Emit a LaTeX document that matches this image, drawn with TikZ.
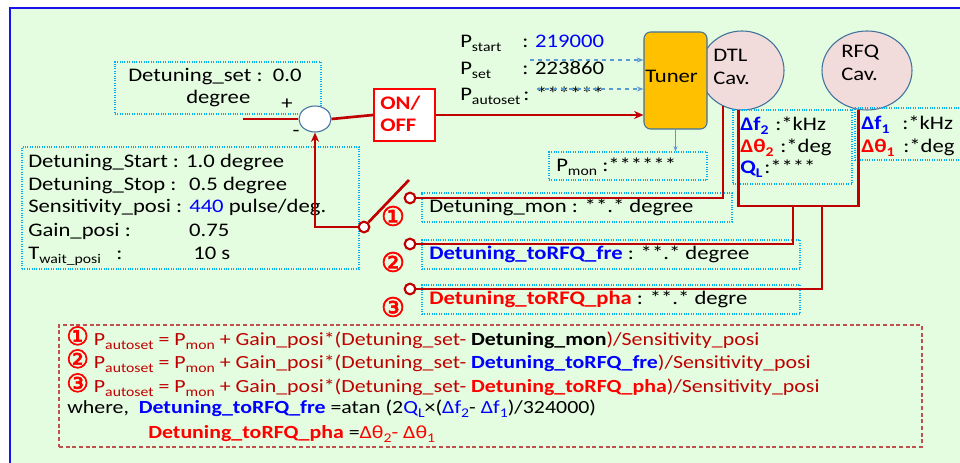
\documentclass[tikz,border=0pt]{standalone}
\usepackage{fontspec}
\setmainfont{Carlito}[FakeStretch=1.18]
\newfontfamily\circfont{DejaVu Sans}[FakeBold=2.5]
\usepackage{tikz}
\usetikzlibrary{arrows.meta,fit,shapes.geometric,calc}

\definecolor{bggreen}{RGB}{228,252,224}
\definecolor{frameblue}{RGB}{20,20,235}
\definecolor{dotcyan}{RGB}{0,176,240}
\definecolor{wirered}{RGB}{192,0,0}
\definecolor{brightred}{RGB}{255,0,0}
\definecolor{txtblue}{RGB}{0,0,255}
\definecolor{cavpink}{RGB}{242,220,219}
\definecolor{edgeblue}{RGB}{65,113,156}
\definecolor{tunerorange}{RGB}{255,192,0}
\definecolor{dashblue}{RGB}{91,155,213}
\definecolor{formred}{RGB}{192,80,77}

% subscript and fixed-width label helpers
\newcommand{\psub}[1]{\raisebox{-3pt}{\fontsize{10pt}{10pt}\selectfont #1}}
\newcommand{\lbl}[2]{\makebox[#1][l]{#2}}
\newcommand{\cnum}[1]{{\circfont\fontsize{19pt}{19pt}\selectfont\color{brightred}#1}}

\begin{document}
\begin{tikzpicture}[x=0.75pt,y=-0.75pt,
		font=\fontsize{14.4pt}{17.25pt}\selectfont,
		txt/.style={anchor=base west,inner sep=0pt},
		dotbox/.style={draw=dotcyan,densely dotted,line width=0.8pt,inner sep=0pt},
		wire/.style={draw=wirered,line width=2pt},
		contact/.style={circle,draw=wirered,fill=white,line width=1.6pt,minimum size=8pt,inner sep=0pt},
		cav/.style={ellipse,draw=edgeblue,fill=cavpink,line width=0.8pt,inner sep=0pt},
		dashar/.style={draw=dashblue,dashed,line width=1pt,-{Stealth[length=5pt]}},
		circnum/.style={inner sep=0pt,font=\circfont\fontsize{20pt}{20pt}\selectfont,text=brightred},
		formula/.style={txt,font=\fontsize{13.9pt}{17pt}\selectfont},
		ar/.style={-{Stealth[length=7pt,width=6pt]}}
		]

		\useasboundingbox (0,0) rectangle (960,463);
		\fill[white] (0,0) rectangle (960,463);
		\fill[bggreen] (10,8) rectangle (960,463);
		\draw[frameblue,line width=2.2pt] (10,463) -- (10,8) -- (960,8);

		% set point and summing junction
		\node[dotbox,fit={(115,62) (321,114)}] (setbox) {};
		\node[txt] (settxt) at (128,82) {Detuning\_set :\ \ 0.0};
		\node[txt] (setdeg) at (186,104) {degree};
		\node (plus) at (287,104) {+};
		\node (minus) at (296,133) {-};
		\node[ellipse,draw=edgeblue,fill=white,line width=0.8pt,minimum width=24pt,minimum height=19.5pt] (sum) at (315,119) {};
		\coordinate (setin) at (243,119);

		\node[draw=brightred,fill=white,line width=1.5pt,inner sep=0pt,fit={(374,89) (435,141)}] (onoff) {};
		\node[txt,text=brightred,font=\fontsize{14.4pt}{17.25pt}\selectfont\bfseries] (ontxt) at (380,110) {ON/};
		\node[txt,text=brightred,font=\fontsize{14.4pt}{17.25pt}\selectfont\bfseries] (offtxt) at (380,132) {OFF};

		% cavities and tuner
		\node[cav,minimum width=63pt,minimum height=59.25pt] (dtl) at (742,70.5) {};
		\node[cav,minimum width=67.5pt,minimum height=59.25pt] (rfq) at (867,70.5) {};
		\node[txt] (dtltxt) at (713,62) {DTL};
		\node[txt] (dtlcav) at (713,85) {Cav.};
		\node[txt] (rfqtxt) at (841,58) {RFQ};
		\node[txt] (rfqcav) at (841,81) {Cav.};
		\node[draw=edgeblue,fill=tunerorange,rounded corners=5pt,line width=0.8pt,inner sep=0pt,fit={(644,32) (707,129)}] (tuner) {};
		\node[txt] (tunertxt) at (645,83) {Tuner};

		% pulse values
		\node[txt] (pstart) at (460,48) {P\psub{start}};
		\node[txt] (pstartv) at (522,48) {: \textcolor{txtblue}{219000}};
		\node[txt] (pset) at (460,75) {P\psub{set}};
		\node[txt] (psetv) at (522,75) {: 223860};
		\node[txt] (pauto) at (460,101) {P\psub{autoset}};
		\node[txt] (pautov) at (523,101) {: ******};
		\coordinate (dsa) at (530,60);
		\coordinate (dsb) at (537,89);
		\draw[dashar] (dsa) -- (dsa -| tuner.west);
		\draw[dashar] (dsb) -- (dsb -| tuner.west);

		\node[dotbox,fit={(549,152) (707,180)}] (pmonbox) {};
		\node[txt] (pmon) at (556,172) {P\psub{mon}};
		\node[txt] (pmonv) at (602,172) {:******};
		\draw[draw=dashblue,line width=0.8pt,-{Stealth[length=4pt]}] (tuner.south) -- (tuner.south |- pmonbox.north);

		% cavity readings
		\node[dotbox,fit={(733,110) (852,184)}] (dtlbox) {};
		\node[txt,text=txtblue,font=\fontsize{14.4pt}{17.25pt}\selectfont\bfseries] (df2) at (740,131) {Δf\psub{2}};
		\node[txt] (df2v) at (775,131) {:*kHz};
		\node[txt,text=brightred,font=\fontsize{14.4pt}{17.25pt}\selectfont\bfseries] (dt2) at (740,153) {Δθ\psub{2}};
		\node[txt] (dt2v) at (780,153) {:*deg};
		\node[txt,text=txtblue,font=\fontsize{14.4pt}{17.25pt}\selectfont\bfseries] (ql) at (740,174) {Q\psub{L}};
		\node[txt] (qlv) at (764,174) {:****};

		\node[dotbox,fit={(855,108) (964,160)}] (rfqbox) {};
		\node[txt,text=txtblue,font=\fontsize{14.4pt}{17.25pt}\selectfont\bfseries] (df1) at (861,130) {Δf\psub{1}};
		\node[txt] (df1v) at (902,130) {:*kHz};
		\node[txt,text=brightred,font=\fontsize{14.4pt}{17.25pt}\selectfont\bfseries] (dt1) at (861,153) {Δθ\psub{1}};
		\node[txt] (dt1v) at (903,153) {:*deg};

		% parameters
		\node[dotbox,fit={(22,147) (359,269)}] (parbox) {};
		\node[txt] (par1) at (28,168) {\lbl{118.5pt}{Detuning\_Start :}1.0 degree};
		\node[txt] (par2) at (28,191) {\lbl{120.75pt}{Detuning\_Stop :}0.5 degree};
		\node[txt] (par3) at (28,213) {\lbl{120.75pt}{Sensitivity\_posi :}\textcolor{txtblue}{440} pulse/deg.};
		\node[txt] (par4) at (28,237) {\lbl{120.75pt}{Gain\_posi :}0.75};
		\node[txt] (par5) at (28,260) {\lbl{123.75pt}{T\psub{wait\_posi}\ \ \ :}10 s};

		% selector outputs
		\node[dotbox,fit={(422,193) (732,222)}] (monbox) {};
		\node[txt] (montxt) at (429,213) {Detuning\_mon : **.* degree};
		\node[dotbox,fit={(422,240) (800,269)}] (frebox) {};
		\node[txt] (fretxt) at (429,260) {\textcolor{txtblue}{\bfseries Detuning\_toRFQ\_fre} : **.* degree};
		\node[dotbox,fit={(422,285) (800,314)}] (phabox) {};
		\node[txt] (phatxt) at (429,305) {\textcolor{brightred}{\bfseries Detuning\_toRFQ\_pha} : **.* degre};

		% wiring
		\coordinate (bus) at (0,206);
		\coordinate (tapb) at (793,206);
		\coordinate (tapc) at (822,206);
		\coordinate (armtip) at (409,180);
		\draw[wire] (setin) -- (sum.west);
		\draw[wire] (sum.east) -- (onoff.west);
		\draw[wire,ar] (onoff.east) -- (onoff.east -| tuner.west);
		\draw[wire] (dtl.242) |- (410,198);
		\draw[wire] (dtl.265) -- (dtl.265 |- bus) -| (rfq.258);
		\draw[wire] (tapb) |- (410,244);
		\draw[wire] (tapc) |- (410,289);
		\node[contact] (pivot) at (364,227) {};
		\node[contact] (ca) at (410,198) {};
		\node[contact] (cb) at (410,244) {};
		\node[contact] (cc) at (410,289) {};
		\draw[wire] (pivot) -- (armtip);
		\draw[wire,ar] (pivot.west) -| (sum.south);
		\node[circnum] (n1) at (393,216) {①};
		\node[circnum] (n2) at (393,262) {②};
		\node[circnum] (n3) at (393,307) {③};

		% formulas
		\node[draw=formred,densely dashed,line width=1pt,inner sep=0pt,fit={(59,325) (922,447)}] (formbox) {};
		\node[formula,text=wirered] (f1) at (66,345) {\cnum{①} P\psub{autoset} = P\psub{mon} + Gain\_posi*(Detuning\_set- \textcolor{black}{\bfseries Detuning\_mon})/Sensitivity\_posi};
		\node[formula,text=wirered] (f2) at (66,368) {\cnum{②} P\psub{autoset} = P\psub{mon} + Gain\_posi*(Detuning\_set- \textcolor{txtblue}{\bfseries Detuning\_toRFQ\_fre})/Sensitivity\_posi};
		\node[formula,text=wirered] (f3) at (66,392) {\cnum{③} P\psub{autoset} = P\psub{mon} + Gain\_posi*(Detuning\_set- \textcolor{brightred}{\bfseries Detuning\_toRFQ\_pha})/Sensitivity\_posi};
		\node[formula] (f4) at (67,413) {where,\ \ \textcolor{txtblue}{\bfseries Detuning\_toRFQ\_fre} =atan (2\textcolor{txtblue}{Q\psub{L}}×(\textcolor{txtblue}{Δf\psub{2}}- \textcolor{txtblue}{Δf\psub{1}})/324000)};
		\node[formula] (f5) at (148,438) {\textcolor{brightred}{\bfseries Detuning\_toRFQ\_pha} =\textcolor{brightred}{Δθ\psub{2}- Δθ\psub{1}}};

	\end{tikzpicture}
\end{document}
